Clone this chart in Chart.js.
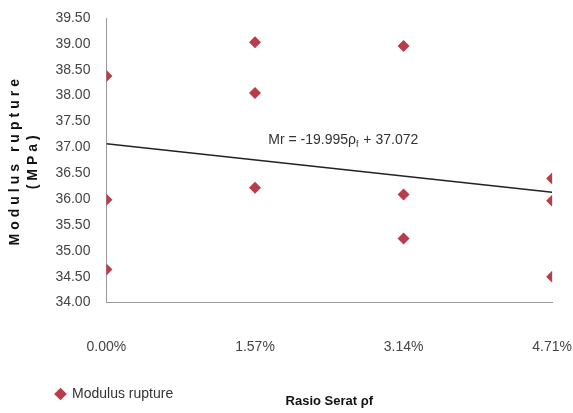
<!DOCTYPE html>
<html>
<head>
<meta charset="utf-8">
<script src="https://cdn.jsdelivr.net/npm/chart.js@4.4.1/dist/chart.umd.min.js"></script>
<style>
  html, body { margin: 0; padding: 0; background: #fff; }
</style>
</head>
<body>
<canvas id="mrChart" width="573" height="413"></canvas>
<script>
// fibre ratio (%) and the three modulus of rupture samples per ratio (MPa)
const ratios = [0.00, 1.57, 3.14, 4.71];
const mrSample1 = [38.38, 39.03, 38.96, 36.40];
const mrSample2 = [35.99, 38.05, 36.09, 35.97];
const mrSample3 = [34.64, 36.22, 35.24, 34.50];
const xTickLabels = ["0.00%", "1.57%", "3.14%", "4.71%"];

// regression Mr = -19.995 pf + 37.072 (pf as a fraction)
const slope = -19.995;
const intercept = 37.072;

const FONT = "'Liberation Sans', Arial, sans-serif";
const red = "#b83c4a";
const clear = "rgba(0,0,0,0)";

const points = [];
ratios.forEach((r, i) => {
  points.push({ x: r, y: mrSample1[i] });
  points.push({ x: r, y: mrSample2[i] });
  points.push({ x: r, y: mrSample3[i] });
});

const trend = [ratios[0], ratios[ratios.length - 1]].map(r => ({
  x: r, y: intercept + slope * r / 100
}));

// equation label with subscript f
const equationLabel = {
  id: "equationLabel",
  afterDatasetsDraw(chart) {
    const { ctx, scales } = chart;
    const x = scales.x.getPixelForValue(1.71);
    const y = scales.y.getPixelForValue(37.14);
    ctx.save();
    ctx.fillStyle = "#333";
    ctx.textBaseline = "middle";
    ctx.font = "14px " + FONT;
    let t = "Mr = -19.995\u03C1";
    ctx.fillText(t, x, y);
    let w = ctx.measureText(t).width;
    ctx.font = "9px " + FONT;
    ctx.fillText("f", x + w, y + 4);
    w += ctx.measureText("f").width;
    ctx.font = "14px " + FONT;
    ctx.fillText(" + 37.072", x + w + 1, y);
    ctx.restore();
  }
};

// legend sits to the right and a bit higher; y title is letter-spaced
const layoutTweaks = {
  id: "layoutTweaks",
  afterLayout(chart) {
    chart.legend.left += 50;
    chart.legend.top -= 2;
    chart.legend.bottom -= 2;
    const ys = chart.scales.y;
    if (!ys._spaced) {
      const orig = ys.drawTitle;
      ys.drawTitle = function () {
        this.ctx.save();
        this.ctx.letterSpacing = "4px";
        orig.call(this);
        this.ctx.restore();
      };
      ys._spaced = true;
    }
  }
};

new Chart(document.getElementById("mrChart"), {
  type: "scatter",
  data: {
    datasets: [{
      label: "Modulus rupture",
      data: points,
      pointStyle: "rectRot",
      radius: 6,
      hoverRadius: 6,
      backgroundColor: red,
      borderColor: red,
      borderWidth: 0
    }, {
      label: "trend",
      type: "line",
      data: trend,
      borderColor: "#222",
      borderWidth: 1.5,
      pointRadius: 0,
      fill: false
    }]
  },
  options: {
    responsive: false,
    animation: false,
    devicePixelRatio: 1,
    layout: { padding: { top: 18, right: 0, left: 0, bottom: 0 } },
    plugins: {
      tooltip: { enabled: false },
      legend: {
        position: "bottom",
        align: "start",
        labels: {
          usePointStyle: true,
          pointStyle: "rectRot",
          boxWidth: 9,
          boxHeight: 9,
          padding: 6,
          color: "#333",
          font: { family: FONT, size: 14 },
          filter: item => item.text !== "trend"
        }
      }
    },
    scales: {
      x: {
        type: "linear",
        min: 0,
        max: 4.71,
        afterBuildTicks: axis => {
          axis.ticks = ratios.map(v => ({ value: v }));
        },
        grid: {
          display: true,
          drawOnChartArea: false,
          drawTicks: true,
          tickLength: 35,
          tickColor: clear
        },
        border: { display: true, color: "#9a9a9a", width: 1 },
        ticks: {
          padding: 1,
          color: "#444",
          font: { family: FONT, size: 14 },
          callback: (v, i) => xTickLabels[i]
        },
        title: {
          display: true,
          text: "Rasio Serat \u03C1f",
          color: "#111",
          font: { family: FONT, size: 13, weight: "bold" },
          padding: { top: 37, bottom: -26 }
        }
      },
      y: {
        min: 34,
        max: 39.5,
        grid: {
          display: true,
          drawOnChartArea: false,
          drawTicks: true,
          tickLength: 12,
          tickColor: clear
        },
        border: { display: true, color: "#9a9a9a", width: 1 },
        ticks: {
          stepSize: 0.5,
          padding: 4,
          color: "#444",
          font: { family: FONT, size: 14 },
          callback: v => v.toFixed(2)
        },
        title: {
          display: true,
          text: ["Modulus rupture", "(MPa)"],
          color: "#111",
          font: { family: FONT, size: 14, weight: "bold", lineHeight: 1.3 },
          padding: { top: 6, bottom: 9 }
        }
      }
    }
  },
  plugins: [equationLabel, layoutTweaks]
});
</script>
</body>
</html>
